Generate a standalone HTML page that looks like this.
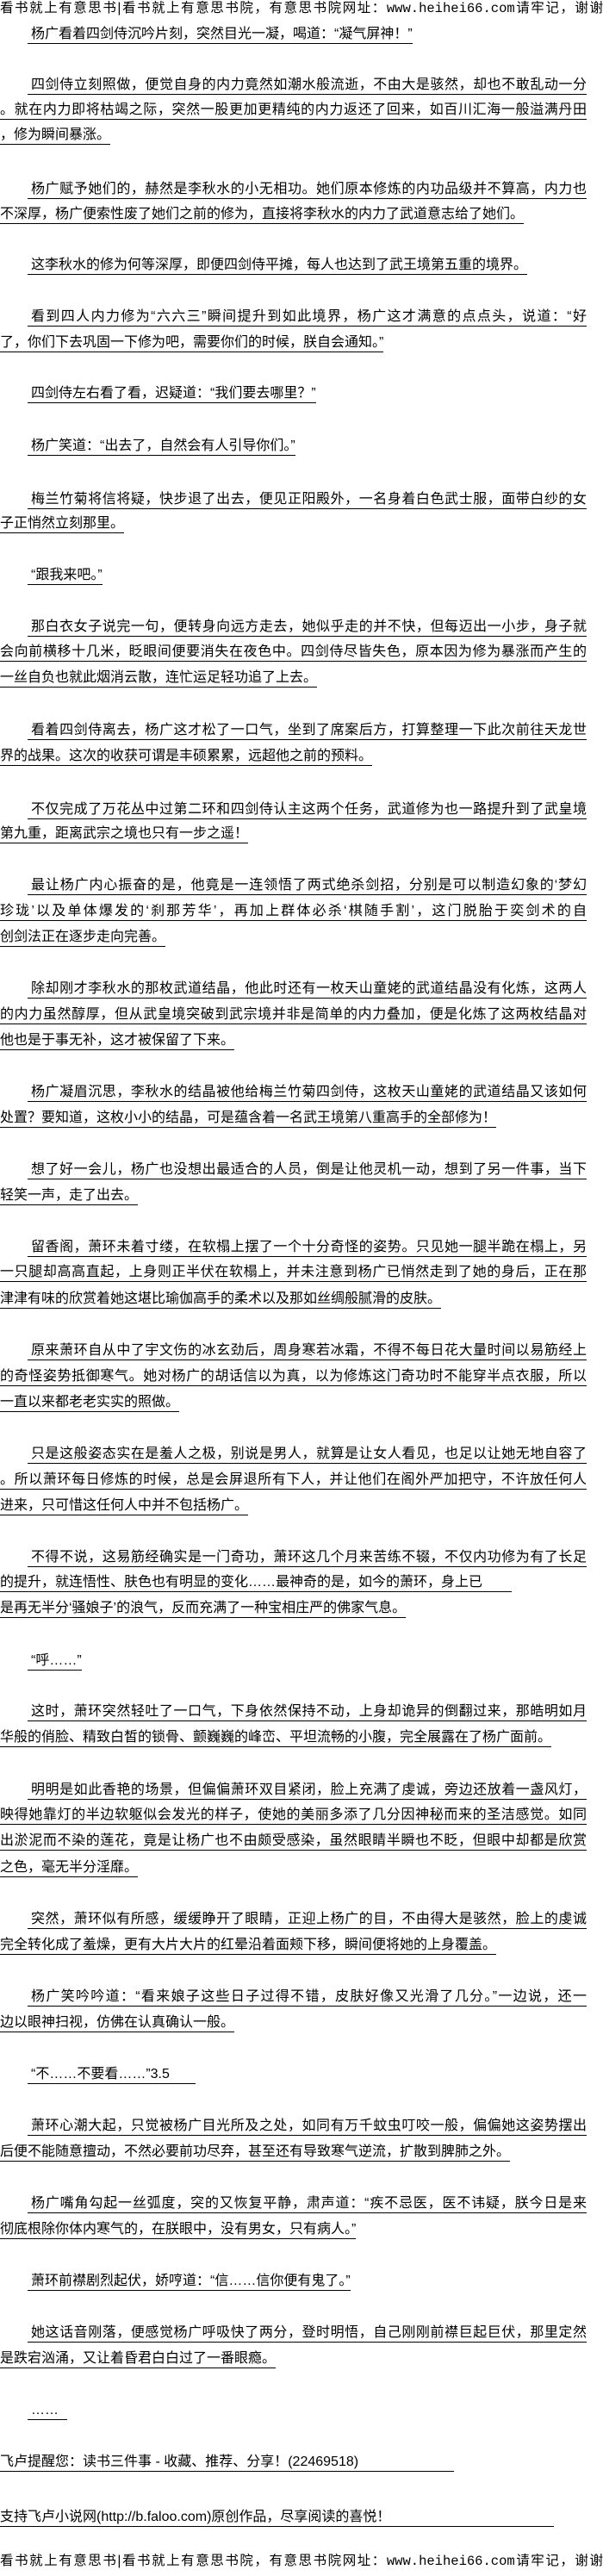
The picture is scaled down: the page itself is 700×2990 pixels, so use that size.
<!DOCTYPE html>
<html><head><meta charset="utf-8">
<style>
html,body{margin:0;padding:0;background:#fff;}
body{width:700px;height:2990px;position:relative;overflow:hidden;font-family:"Liberation Sans","Noto Sans CJK SC","WenQuanYi Zen Hei",sans-serif;font-size:16px;color:#000;}
.l{position:absolute;left:0;height:20px;line-height:20px;white-space:nowrap;border-bottom:1px solid #000;}
.i{left:32px;padding-left:4px;}
.f{width:681px;text-align:justify;text-align-last:justify;}
.i.f{width:645px;}
.h{position:absolute;left:0;width:700px;height:20px;line-height:20px;white-space:nowrap;text-align:justify;text-align-last:justify;font-size:15.5px;}
.m{font-family:"Liberation Mono","Noto Sans CJK SC",monospace;}
</style></head><body>
<div class="h" style="top:0px">看书就上有意思书|看书就上有意思书院，有意思书院网址：<span class="m">www.heihei66.com</span>请牢记，谢谢</div>

<div class="l i" style="top:30px">杨广看着四剑侍沉吟片刻，突然目光一凝，喝道：“凝气屏神！”</div>

<div class="l i f" style="top:89px">四剑侍立刻照做，便觉自身的内力竟然如潮水般流逝，不由大是骇然，却也不敢乱动一分</div>
<div class="l f" style="top:118px">。就在内力即将枯竭之际，突然一股更加更精纯的内力返还了回来，如百川汇海一般溢满丹田</div>
<div class="l" style="top:147px">，修为瞬间暴涨。</div>

<div class="l i f" style="top:210px">杨广赋予她们的，赫然是李秋水的小无相功。她们原本修炼的内功品级并不算高，内力也</div>
<div class="l" style="top:239px">不深厚，杨广便索性废了她们之前的修为，直接将李秋水的内力了武道意志给了她们。</div>

<div class="l i" style="top:298px">这李秋水的修为何等深厚，即便四剑侍平摊，每人也达到了武王境第五重的境界。</div>

<div class="l i f" style="top:358px">看到四人内力修为“六六三”瞬间提升到如此境界，杨广这才满意的点点头，说道：“好</div>
<div class="l" style="top:388px">了，你们下去巩固一下修为吧，需要你们的时候，朕自会通知。”</div>

<div class="l i" style="top:447px">四剑侍左右看了看，迟疑道：“我们要去哪里？”</div>

<div class="l i" style="top:508px">杨广笑道：“出去了，自然会有人引导你们。”</div>

<div class="l i f" style="top:570px">梅兰竹菊将信将疑，快步退了出去，便见正阳殿外，一名身着白色武士服，面带白纱的女</div>
<div class="l" style="top:598px">子正悄然立刻那里。</div>

<div class="l i" style="top:658px">“跟我来吧。”</div>

<div class="l i f" style="top:718px">那白衣女子说完一句，便转身向远方走去，她似乎走的并不快，但每迈出一小步，身子就</div>
<div class="l f" style="top:747px">会向前横移十几米，眨眼间便要消失在夜色中。四剑侍尽皆失色，原本因为修为暴涨而产生的</div>
<div class="l" style="top:777px">一丝自负也就此烟消云散，连忙运足轻功追了上去。</div>

<div class="l i f" style="top:838px">看着四剑侍离去，杨广这才松了一口气，坐到了席案后方，打算整理一下此次前往天龙世</div>
<div class="l" style="top:868px">界的战果。这次的收获可谓是丰硕累累，远超他之前的预料。</div>

<div class="l i f" style="top:930px">不仅完成了万花丛中过第二环和四剑侍认主这两个任务，武道修为也一路提升到了武皇境</div>
<div class="l" style="top:958px">第九重，距离武宗之境也只有一步之遥！</div>

<div class="l i f" style="top:1018px">最让杨广内心振奋的是，他竟是一连领悟了两式绝杀剑招，分别是可以制造幻象的‘梦幻</div>
<div class="l f" style="top:1048px">珍珑’以及单体爆发的‘刹那芳华’，再加上群体必杀‘棋随手割’，这门脱胎于奕剑术的自</div>
<div class="l" style="top:1078px">创剑法正在逐步走向完善。</div>

<div class="l i f" style="top:1138px">除却刚才李秋水的那枚武道结晶，他此时还有一枚天山童姥的武道结晶没有化炼，这两人</div>
<div class="l f" style="top:1168px">的内力虽然醇厚，但从武皇境突破到武宗境并非是简单的内力叠加，便是化炼了这两枚结晶对</div>
<div class="l" style="top:1198px">他也是于事无补，这才被保留了下来。</div>

<div class="l i f" style="top:1258px">杨广凝眉沉思，李秋水的结晶被他给梅兰竹菊四剑侍，这枚天山童姥的武道结晶又该如何</div>
<div class="l" style="top:1288px">处置？要知道，这枚小小的结晶，可是蕴含着一名武王境第八重高手的全部修为！</div>

<div class="l i f" style="top:1348px">想了好一会儿，杨广也没想出最适合的人员，倒是让他灵机一动，想到了另一件事，当下</div>
<div class="l" style="top:1378px">轻笑一声，走了出去。</div>

<div class="l i f" style="top:1438px">留香阁，萧环未着寸缕，在软榻上摆了一个十分奇怪的姿势。只见她一腿半跪在榻上，另</div>
<div class="l f" style="top:1467px">一只腿却高高直起，上身则正半伏在软榻上，并未注意到杨广已悄然走到了她的身后，正在那</div>
<div class="l" style="top:1498px">津津有味的欣赏着她这堪比瑜伽高手的柔术以及那如丝绸般腻滑的皮肤。</div>

<div class="l i f" style="top:1558px">原来萧环自从中了宇文伤的冰玄劲后，周身寒若冰霜，不得不每日花大量时间以易筋经上</div>
<div class="l f" style="top:1588px">的奇怪姿势抵御寒气。她对杨广的胡话信以为真，以为修炼这门奇功时不能穿半点衣服，所以</div>
<div class="l" style="top:1618px">一直以来都老老实实的照做。</div>

<div class="l i f" style="top:1678px">只是这般姿态实在是羞人之极，别说是男人，就算是让女人看见，也足以让她无地自容了</div>
<div class="l f" style="top:1708px">。所以萧环每日修炼的时候，总是会屏退所有下人，并让他们在阁外严加把守，不许放任何人</div>
<div class="l" style="top:1738px">进来，只可惜这任何人中并不包括杨广。</div>

<div class="l i f" style="top:1798px">不得不说，这易筋经确实是一门奇功，萧环这几个月来苦练不辍，不仅内功修为有了长足</div>
<div class="l" style="top:1827px;padding-right:34px">的提升，就连悟性、肤色也有明显的变化……最神奇的是，如今的萧环，身上已</div>
<div class="l" style="top:1857px">是再无半分‘骚娘子’的浪气，反而充满了一种宝相庄严的佛家气息。</div>

<div class="l i" style="top:1918px">“呼……”</div>

<div class="l i f" style="top:1977px">这时，萧环突然轻吐了一口气，下身依然保持不动，上身却诡异的倒翻过来，那皓明如月</div>
<div class="l" style="top:2007px">华般的俏脸、精致白皙的锁骨、颤巍巍的峰峦、平坦流畅的小腹，完全展露在了杨广面前。</div>

<div class="l i f" style="top:2068px">明明是如此香艳的场景，但偏偏萧环双目紧闭，脸上充满了虔诚，旁边还放着一盏风灯，</div>
<div class="l f" style="top:2097px">映得她靠灯的半边软躯似会发光的样子，使她的美丽多添了几分因神秘而来的圣洁感觉。如同</div>
<div class="l f" style="top:2127px">出淤泥而不染的莲花，竟是让杨广也不由颇受感染，虽然眼睛半瞬也不眨，但眼中却都是欣赏</div>
<div class="l" style="top:2158px">之色，毫无半分淫靡。</div>

<div class="l i f" style="top:2218px">突然，萧环似有所感，缓缓睁开了眼睛，正迎上杨广的目，不由得大是骇然，脸上的虔诚</div>
<div class="l" style="top:2248px">完全转化成了羞燥，更有大片大片的红晕沿着面颊下移，瞬间便将她的上身覆盖。</div>

<div class="l i f" style="top:2308px">杨广笑吟吟道：“看来娘子这些日子过得不错，皮肤好像又光滑了几分。”一边说，还一</div>
<div class="l" style="top:2338px">边以眼神扫视，仿佛在认真确认一般。</div>

<div class="l i" style="top:2398px;padding-right:30px">“不……不要看……”3.5</div>

<div class="l i f" style="top:2458px">萧环心潮大起，只觉被杨广目光所及之处，如同有万千蚊虫叮咬一般，偏偏她这姿势摆出</div>
<div class="l" style="top:2488px">后便不能随意擅动，不然必要前功尽弃，甚至还有导致寒气逆流，扩散到脾肺之外。</div>

<div class="l i f" style="top:2548px">杨广嘴角勾起一丝弧度，突的又恢复平静，肃声道：“疾不忌医，医不讳疑，朕今日是来</div>
<div class="l" style="top:2578px">彻底根除你体内寒气的，在朕眼中，没有男女，只有病人。”</div>

<div class="l i" style="top:2638px">萧环前襟剧烈起伏，娇哼道：“信……信你便有鬼了。”</div>

<div class="l i f" style="top:2698px">她这话音刚落，便感觉杨广呼吸快了两分，登时明悟，自己刚刚前襟巨起巨伏，那里定然</div>
<div class="l" style="top:2728px">是跌宕汹涌，又让着昏君白白过了一番眼瘾。</div>

<div class="l i" style="top:2788px;padding-right:10px">……</div>

<div class="l" style="top:2848px;width:527px">飞卢提醒您：读书三件事 - 收藏、推荐、分享！(22469518)</div>

<div class="l" style="top:2912px;width:643px">支持飞卢小说网(http://b.faloo.com)原创作品，尽享阅读的喜悦！</div>

<div class="h" style="top:2963px">看书就上有意思书|看书就上有意思书院，有意思书院网址：<span class="m">www.heihei66.com</span>请牢记，谢谢</div>
</body></html>
